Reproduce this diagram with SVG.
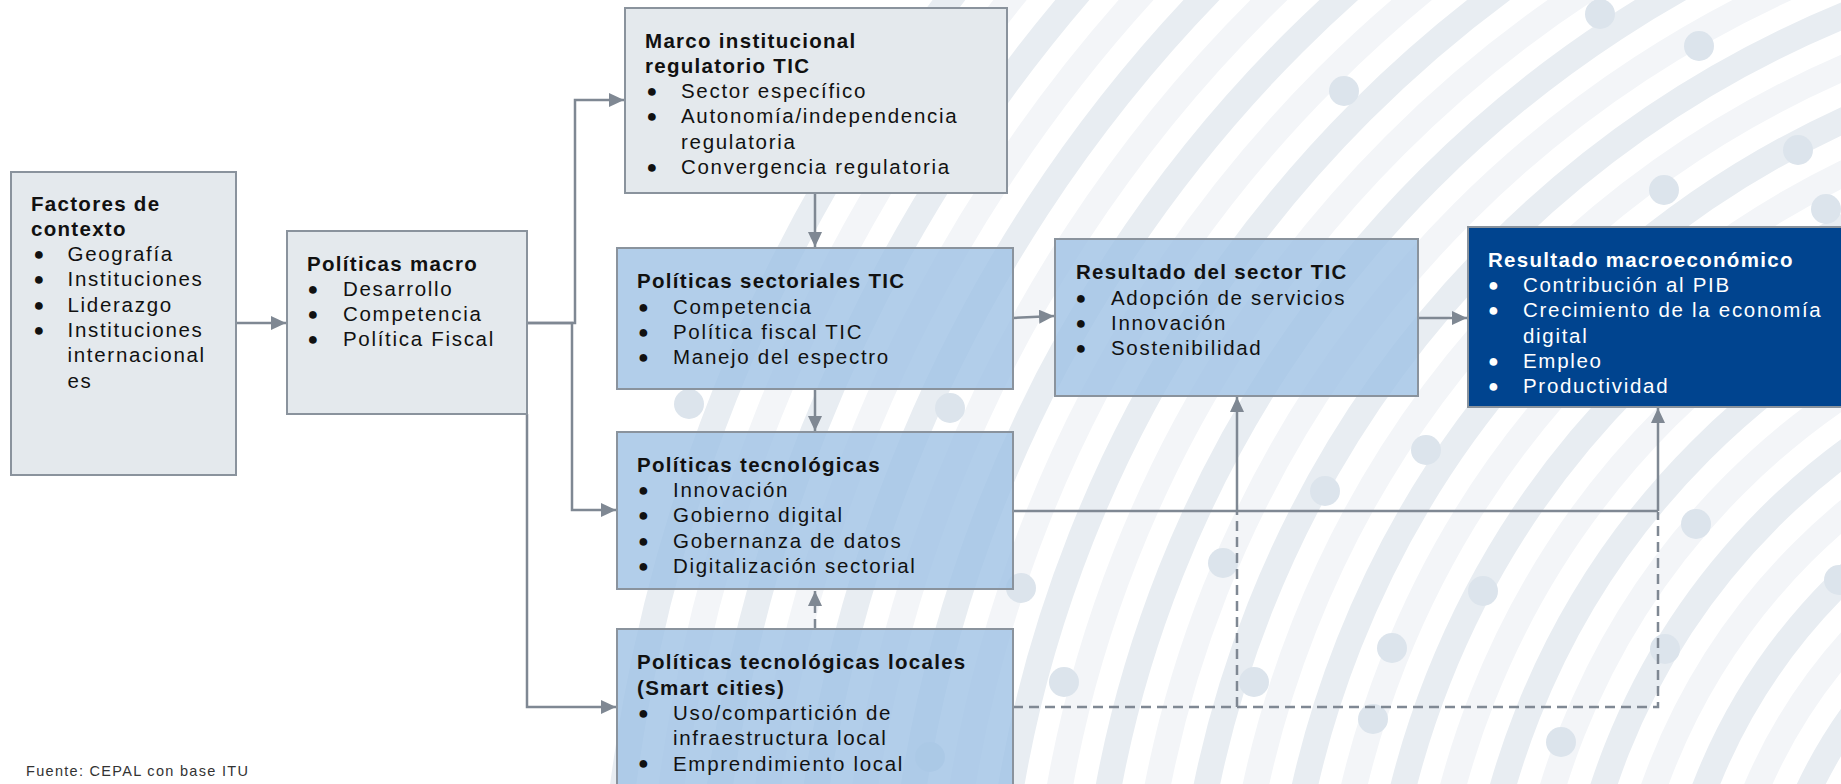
<svg xmlns="http://www.w3.org/2000/svg" width="1841" height="784" viewBox="0 0 1841 784">
<defs>
<style>
.t{font-family:"Liberation Sans",Arial,sans-serif;font-size:20.5px;fill:#111}
.b{font-weight:bold;letter-spacing:1.3px}
.i{letter-spacing:1.7px}
.bu{font-family:"Liberation Sans",Arial,sans-serif;font-size:18px;text-anchor:middle;fill:#111}
.wh{fill:#fff}
.gbox{fill:#e4e9ed;stroke:#8a939d;stroke-width:2}
.bbox{fill:#9fc2e5;fill-opacity:0.8;stroke:#8a939d;stroke-width:2}
.dbox{fill:#00448f;stroke:#8a939d;stroke-width:2}
.c{fill:none;stroke:#7f8893;stroke-width:2.5}
.d{fill:none;stroke:#7f8893;stroke-width:2.5;stroke-dasharray:10 6}
.r1{fill:none;stroke:#e8edf2;stroke-width:26}
.r2{fill:none;stroke:#f3f5f8;stroke-width:26}
.dot{fill:#dce4ec}
</style>
<marker id="ah" markerUnits="userSpaceOnUse" markerWidth="16" markerHeight="14" refX="15" refY="7" orient="auto">
<path d="M0,0 L15,7 L0,14 z" fill="#7f8893"/>
</marker>
</defs>
<rect width="1841" height="784" fill="#fff"/>
<g id="background">
<circle class="r1" cx="2250" cy="1000" r="1641"/>
<circle class="r2" cx="2250" cy="1000" r="1593"/>
<circle class="r1" cx="2250" cy="1000" r="1545"/>
<circle class="r2" cx="2250" cy="1000" r="1497"/>
<circle class="r1" cx="2250" cy="1000" r="1449"/>
<circle class="r2" cx="2250" cy="1000" r="1401"/>
<circle class="r1" cx="2250" cy="1000" r="1353"/>
<circle class="r2" cx="2250" cy="1000" r="1305"/>
<circle class="r1" cx="2250" cy="1000" r="1257"/>
<circle class="r2" cx="2250" cy="1000" r="1209"/>
<circle class="r1" cx="2250" cy="1000" r="1161"/>
<circle class="r2" cx="2250" cy="1000" r="1113"/>
<circle class="r1" cx="2250" cy="1000" r="1065"/>
<circle class="r2" cx="2250" cy="1000" r="1017"/>
<circle class="r1" cx="2250" cy="1000" r="969"/>
<circle class="r2" cx="2250" cy="1000" r="921"/>
<circle class="r1" cx="2250" cy="1000" r="873"/>
<circle class="r2" cx="2250" cy="1000" r="825"/>
<circle class="r1" cx="2250" cy="1000" r="777"/>
<circle class="r2" cx="2250" cy="1000" r="729"/>
<circle class="r1" cx="2250" cy="1000" r="681"/>
<circle class="r2" cx="2250" cy="1000" r="633"/>
<circle class="r1" cx="2250" cy="1000" r="585"/>
<circle class="r2" cx="2250" cy="1000" r="537"/>
<circle class="r1" cx="2250" cy="1000" r="489"/>
<circle class="r2" cx="2250" cy="1000" r="441"/>
<circle class="dot" cx="1600" cy="14" r="15"/>
<circle class="dot" cx="1699" cy="46" r="15"/>
<circle class="dot" cx="1344" cy="91" r="15"/>
<circle class="dot" cx="1798" cy="150" r="15"/>
<circle class="dot" cx="1664" cy="190" r="15"/>
<circle class="dot" cx="1826" cy="209" r="15"/>
<circle class="dot" cx="950" cy="408" r="15"/>
<circle class="dot" cx="689" cy="404" r="15"/>
<circle class="dot" cx="1426" cy="450" r="15"/>
<circle class="dot" cx="1325" cy="491" r="15"/>
<circle class="dot" cx="1696" cy="524" r="15"/>
<circle class="dot" cx="1483" cy="591" r="15"/>
<circle class="dot" cx="1021" cy="588" r="15"/>
<circle class="dot" cx="1392" cy="648" r="15"/>
<circle class="dot" cx="1665" cy="649" r="15"/>
<circle class="dot" cx="1064" cy="682" r="15"/>
<circle class="dot" cx="1373" cy="719" r="15"/>
<circle class="dot" cx="1561" cy="742" r="15"/>
<circle class="dot" cx="1839" cy="580" r="15"/>
<circle class="dot" cx="1223" cy="563" r="15"/>
<circle class="dot" cx="1254" cy="682" r="15"/>
<circle class="dot" cx="930" cy="757" r="15"/>
</g>
<g id="connectors">
<path class="c" d="M236,323 H286" marker-end="url(#ah)"/>
<path class="c" d="M527,323 H575 V100 H624" marker-end="url(#ah)"/>
<path class="c" d="M527,323 H572 V510 H616" marker-end="url(#ah)"/>
<path class="c" d="M527,414 V707 H616" marker-end="url(#ah)"/>
<path class="c" d="M815,193 V247" marker-end="url(#ah)"/>
<path class="c" d="M815,389 V431" marker-end="url(#ah)"/>
<path class="d" d="M815,629 V591" marker-end="url(#ah)"/>
<path class="c" d="M1013,318 L1054,316" marker-end="url(#ah)"/>
<path class="c" d="M1418,318 H1467" marker-end="url(#ah)"/>
<path class="c" d="M1013,511 H1658"/>
<path class="c" d="M1237,511 V397" marker-end="url(#ah)"/>
<path class="c" d="M1658,511 V408" marker-end="url(#ah)"/>
<path class="d" d="M1013,707 H1658 V512"/>
<path class="d" d="M1237,707 V512"/>
</g>
<g id="factores">
<rect class="gbox" x="11" y="172" width="225" height="303"/>
<text class="t b" x="31" y="210.5">Factores de</text>
<text class="t b" x="31" y="235.8">contexto</text>
<text class="bu" x="39" y="260">●</text><text class="t i" x="67.5" y="261.1">Geografía</text>
<text class="bu" x="39" y="285.3">●</text><text class="t i" x="67.5" y="286.4">Instituciones</text>
<text class="bu" x="39" y="310.6">●</text><text class="t i" x="67.5" y="311.7">Liderazgo</text>
<text class="bu" x="39" y="335.9">●</text><text class="t i" x="67.5" y="337">Instituciones</text>
<text class="t i" x="67.5" y="362.3">internacional</text>
<text class="t i" x="67.5" y="387.6">es</text>
</g>
<g id="politicas-macro">
<rect class="gbox" x="287" y="231" width="240" height="183"/>
<text class="t b" x="307" y="270.5">Políticas macro</text>
<text class="bu" x="313" y="294.7">●</text><text class="t i" x="343" y="295.8">Desarrollo</text>
<text class="bu" x="313" y="320">●</text><text class="t i" x="343" y="321.1">Competencia</text>
<text class="bu" x="313" y="345.3">●</text><text class="t i" x="343" y="346.4">Política Fiscal</text>
</g>
<g id="marco-institucional">
<rect class="gbox" x="625" y="8" width="382" height="185"/>
<text class="t b" x="645" y="47.5">Marco institucional</text>
<text class="t b" x="645" y="72.8">regulatorio TIC</text>
<text class="bu" x="652" y="97">●</text><text class="t i" x="681" y="98.1">Sector específico</text>
<text class="bu" x="652" y="122.3">●</text><text class="t i" x="681" y="123.4">Autonomía/independencia</text>
<text class="t i" x="681" y="148.7">regulatoria</text>
<text class="bu" x="652" y="172.9">●</text><text class="t i" x="681" y="174">Convergencia regulatoria</text>
</g>
<g id="politicas-sectoriales">
<rect class="bbox" x="617" y="248" width="396" height="141"/>
<text class="t b" x="637" y="288.3">Políticas sectoriales TIC</text>
<text class="bu" x="643.5" y="312.5">●</text><text class="t i" x="673" y="313.6">Competencia</text>
<text class="bu" x="643.5" y="337.8">●</text><text class="t i" x="673" y="338.9">Política fiscal TIC</text>
<text class="bu" x="643.5" y="363.1">●</text><text class="t i" x="673" y="364.2">Manejo del espectro</text>
</g>
<g id="politicas-tecnologicas">
<rect class="bbox" x="617" y="432" width="396" height="157"/>
<text class="t b" x="637" y="471.7">Políticas tecnológicas</text>
<text class="bu" x="643.5" y="495.9">●</text><text class="t i" x="673" y="497">Innovación</text>
<text class="bu" x="643.5" y="521.2">●</text><text class="t i" x="673" y="522.3">Gobierno digital</text>
<text class="bu" x="643.5" y="546.5">●</text><text class="t i" x="673" y="547.6">Gobernanza de datos</text>
<text class="bu" x="643.5" y="571.8">●</text><text class="t i" x="673" y="572.9">Digitalización sectorial</text>
</g>
<g id="politicas-locales">
<rect class="bbox" x="617" y="629" width="396" height="175"/>
<text class="t b" x="637" y="669.3">Políticas tecnológicas locales</text>
<text class="t b" x="637" y="694.6">(Smart cities)</text>
<text class="bu" x="643.5" y="718.8">●</text><text class="t i" x="673" y="719.9">Uso/compartición de</text>
<text class="t i" x="673" y="745.2">infraestructura local</text>
<text class="bu" x="643.5" y="769.4">●</text><text class="t i" x="673" y="770.5">Emprendimiento local</text>
</g>
<g id="resultado-tic">
<rect class="bbox" x="1055" y="239" width="363" height="157"/>
<text class="t b" x="1076" y="279.3">Resultado del sector TIC</text>
<text class="bu" x="1081" y="303.5">●</text><text class="t i" x="1111" y="304.6">Adopción de servicios</text>
<text class="bu" x="1081" y="328.8">●</text><text class="t i" x="1111" y="329.9">Innovación</text>
<text class="bu" x="1081" y="354.1">●</text><text class="t i" x="1111" y="355.2">Sostenibilidad</text>
</g>
<g id="resultado-macro">
<rect class="dbox" x="1468" y="227" width="384" height="180"/>
<text class="t b wh" x="1488" y="266.7">Resultado macroeconómico</text>
<text class="bu wh" x="1493.5" y="290.9">●</text><text class="t i wh" x="1523" y="292">Contribución al PIB</text>
<text class="bu wh" x="1493.5" y="316.2">●</text><text class="t i wh" x="1523" y="317.3">Crecimiento de la economía</text>
<text class="t i wh" x="1523" y="342.6">digital</text>
<text class="bu wh" x="1493.5" y="366.8">●</text><text class="t i wh" x="1523" y="367.9">Empleo</text>
<text class="bu wh" x="1493.5" y="392.1">●</text><text class="t i wh" x="1523" y="393.2">Productividad</text>
</g>
<text id="fuente" x="26" y="775.5" style="font-family:'Liberation Sans',Arial,sans-serif;font-size:14.5px;letter-spacing:1.3px;fill:#333">Fuente: CEPAL con base ITU</text>
</svg>
